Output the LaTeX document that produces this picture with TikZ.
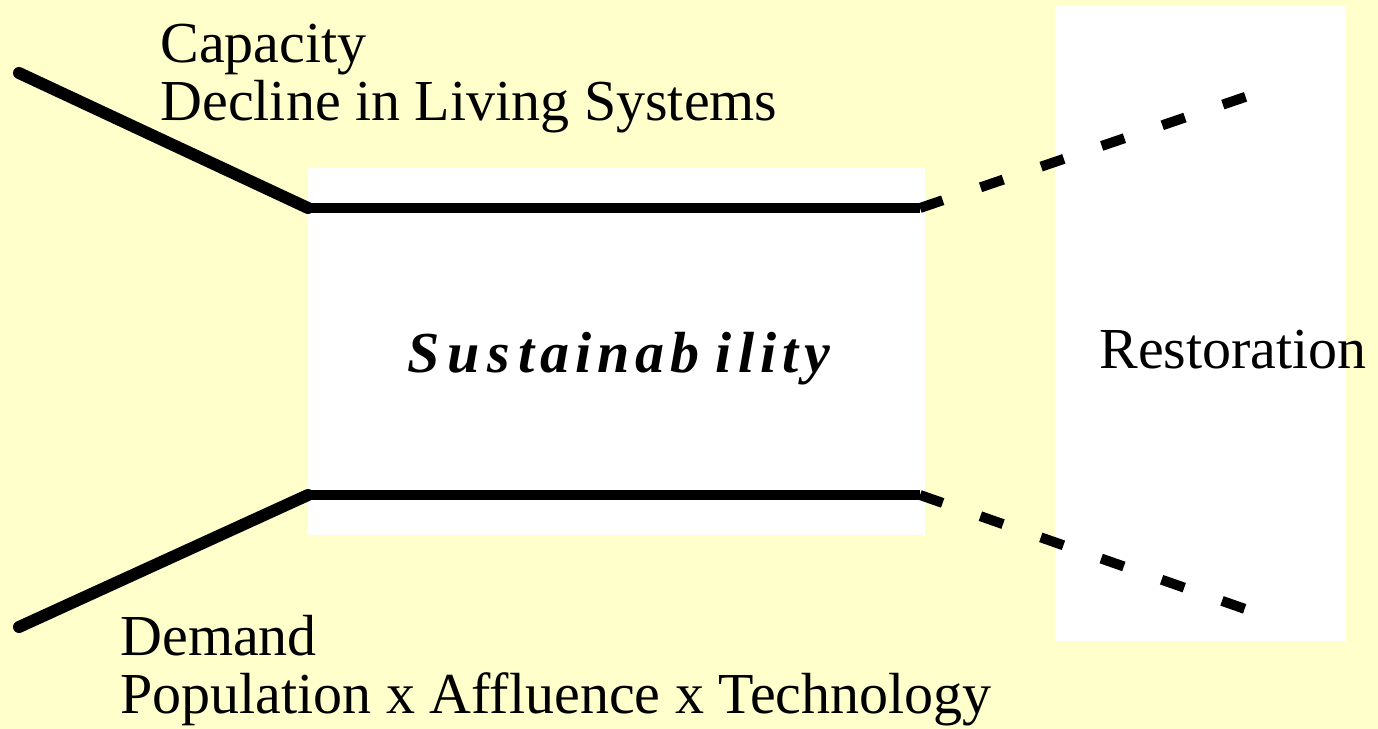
\documentclass[tikz,border=0pt]{standalone}
\newif\ifpalatino
\IfFileExists{pplr8t.tfm}{\IfFileExists{uplr8a.pfb}{\IfFileExists{pplbi8t.tfm}{\palatinotrue}{}}{}}{}
\ifpalatino
  \usepackage[T1]{fontenc}
  \renewcommand{\rmdefault}{ppl}
\else
  \usepackage{fontspec}
  \setmainfont{Liberation Serif}
\fi
\definecolor{bgyellow}{HTML}{FFFFCC}
\tikzset{
  panel/.style={fill=white, draw=none, inner sep=0pt, anchor=north west},
  label/.style={inner sep=0pt, anchor=base west, font=\fontsize{29}{33}\selectfont},
  solidline/.style={line width=5.2pt, line join=miter},
  diagline/.style={line width=6pt, line cap=round},
  dashline/.style={line width=5pt, dash pattern=on 12pt off 20pt},
}
\begin{document}
\begin{tikzpicture}[x=0.5pt, y=-0.5pt]
\fill[bgyellow] (0,0) rectangle (1378,729);
\useasboundingbox (0,0) rectangle (1378,729);
% panels
\node[panel, minimum width=308.5pt, minimum height=183.5pt] (box1) at (308,168) {};
\node[panel, minimum width=145.5pt, minimum height=317.5pt] (box2) at (1055,6) {};
% coordinates
\coordinate (ua) at (19,73);
\coordinate (ub) at (308,208);
\coordinate (uc) at (920,208);
\coordinate (ud) at (1248,96);
\coordinate (la) at (19,627);
\coordinate (lb) at (308,495);
\coordinate (lc) at (920,495);
\coordinate (ld) at (1248,610);
% lines
\draw[diagline] (ua) -- (ub);
\draw[diagline] (la) -- (lb);
\draw[solidline] (ub) -- (uc);
\draw[solidline] (lb) -- (lc);
\draw[dashline] (uc) -- (ud);
\draw[dashline] (lc) -- (ld);
% texts
\node[label] (cap1) at (160,62) {Capacity};
\node[label] (cap2) at (160,120) {Decline in Living Systems};
\node[label] (dem1) at (120,655) {Demand};
\node[label] (dem2) at (120,713) {Population x Affluence x Technology};
\node[label] (rest) at (1099,368) {Restoration};
\node[label, font=\fontsize{29}{33}\selectfont\bfseries\itshape] (sus) at (407,372)
  {S\kern4pt u\kern4pt s\kern4pt t\kern3pt a\kern3pt i\kern3pt n\kern3pt a\kern3pt b\kern8pt i\kern3pt l\kern3pt i\kern3pt t\kern3pt y};
\end{tikzpicture}
\end{document}
